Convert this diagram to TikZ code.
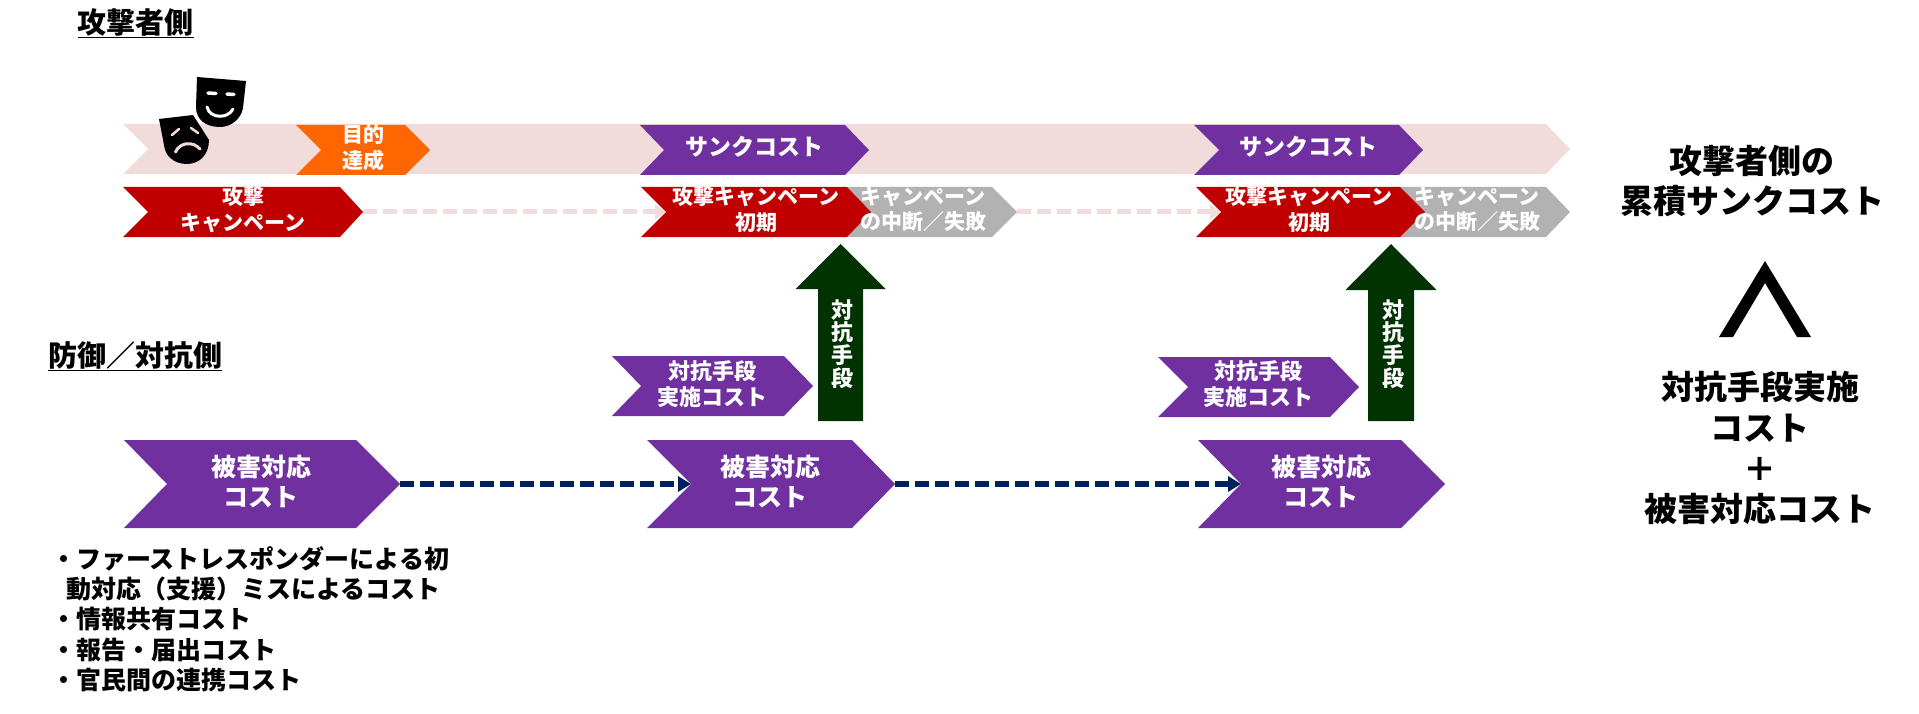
\documentclass[tikz,border=0pt]{standalone}
\usepackage{fontspec}
\setmainfont{Noto Sans CJK JP}
\usetikzlibrary{arrows.meta,backgrounds}
\definecolor{cpurple}{HTML}{7030A0}
\definecolor{cred}{HTML}{C00000}
\definecolor{corange}{HTML}{FF6600}
\definecolor{cgray}{HTML}{B2B2B2}
\definecolor{cpink}{HTML}{F2DCDB}
\definecolor{cgreen}{HTML}{003300}
\definecolor{cnavy}{HTML}{002060}
\newcommand{\chev}[8]{%
  \begin{scope}[on background layer]
    \fill[#8] (#2,#6) -- (#4,#6) -- (#5,{(#6+#7)/2}) -- (#4,#7) -- (#2,#7) -- (#3,{(#6+#7)/2}) -- cycle;
  \end{scope}
  \coordinate (#1-tip) at (#5,{(#6+#7)/2});
  \coordinate (#1-notch) at (#3,{(#6+#7)/2});
}
\newcommand{\uparrowshape}[6]{% cx, tipy, heady, halfhead, halfshaft, boty
  \fill[cgreen] (#1,#2) -- (#1+#4,#3) -- (#1+#5,#3) -- (#1+#5,#6) -- (#1-#5,#6) -- (#1-#5,#3) -- (#1-#4,#3) -- cycle;
}
\newcommand{\sadpath}{(159,119) -- (193,115) -- (209,140) .. controls (209,155) and (199,164) .. (187,164) .. controls (174,164) and (165,156) .. (164,145) -- cycle}
\newcommand{\happypath}{(197,77) -- (246,81) -- (243,108) .. controls (241,119) and (231,127) .. (220,127) .. controls (205,127) and (196,119) .. (196,107) -- cycle}
\tikzset{
  lab/.style={text=white,align=center,inner sep=0pt},
  labs/.style={lab,font=\fontsize{21}{25.5}\selectfont\bfseries},
  labm/.style={lab,font=\fontsize{22}{26}\selectfont\bfseries},
  labk/.style={lab,font=\fontsize{23}{26}\selectfont\bfseries},
  labv/.style={lab,font=\fontsize{22}{22.7}\selectfont\bfseries},
  labl/.style={lab,font=\fontsize{25}{29.5}\selectfont\bfseries},
  heading/.style={inner sep=0pt,font=\fontsize{29}{34}\selectfont\bfseries},
  side/.style={inner sep=0pt,align=center,font=\fontsize{33}{40.8}\selectfont\bfseries},
  listing/.style={inner sep=0pt,align=left,font=\fontsize{25}{30.3}\selectfont\bfseries},
  pinkdash/.style={cpink,line width=5pt,dash pattern=on 14pt off 6pt,-{Triangle[length=11pt,width=15pt]}},
  navydash/.style={cnavy,line width=5.4pt,dash pattern=on 14pt off 6pt,-{Triangle[length=13pt,width=15pt]}},
}
\begin{document}
\begin{tikzpicture}[x=1pt,y=-1pt]
\useasboundingbox (0,0) rectangle (1919,714);
% headings
\node[heading,anchor=center] (headA) at (135.5,23) {\underline{攻撃者側}};
\node[heading,anchor=center] (headB) at (135,356) {\underline{防御／対抗側}};
% top band
\chev{band}{123}{148}{1546}{1570}{124}{174}{cpink}
\chev{goal}{296}{321}{405}{430}{125}{175}{corange}
\node[labs] (goaltxt) at (363,147.5) {目的\\達成};
\chev{sunkA}{640}{664}{845}{869}{125}{175}{cpurple}
\node[labk] (sunkAtxt) at (754,147) {サンクコスト};
\chev{sunkB}{1194}{1219}{1399}{1423}{125}{175}{cpurple}
\node[labk] (sunkBtxt) at (1308,147) {サンクコスト};
% campaign row
\chev{camp}{123}{148}{340}{363}{187}{237}{cred}
\node[labs] (camptxt) at (243,209.5) {攻撃\\キャンペーン};
\chev{failA}{847}{871}{992}{1017}{187}{237}{cgray}
\chev{initA}{641}{666}{847}{871}{187}{237}{cred}
\node[labs] (initAtxt) at (756,209.5) {攻撃キャンペーン\\初期};
\node[labs] (failAtxt) at (923,209.5) {キャンペーン\\の中断／失敗};
\chev{failB}{1400}{1425}{1546}{1570}{187}{237}{cgray}
\chev{initB}{1196}{1221}{1400}{1425}{187}{237}{cred}
\node[labs] (initBtxt) at (1309,209.5) {攻撃キャンペーン\\初期};
\node[labs] (failBtxt) at (1477,209.5) {キャンペーン\\の中断／失敗};
\draw[pinkdash] (camp-tip) -- (initA-notch);
\draw[pinkdash] (failA-tip) -- (initB-notch);
% counter-measure arrows
\uparrowshape{840.5}{244}{289}{45}{22.5}{421}
\node[labv] (armAtxt) at (842,344) {対\\抗\\手\\段};
\uparrowshape{1391}{244}{290}{45.5}{23}{421}
\node[labv] (armBtxt) at (1393,344) {対\\抗\\手\\段};
% counter-measure cost
\chev{costA}{612}{641}{784}{813}{356}{416}{cpurple}
\node[labm] (costAtxt) at (712,384) {対抗手段\\実施コスト};
\chev{costB}{1158}{1188}{1330}{1359}{357}{417}{cpurple}
\node[labm] (costBtxt) at (1258,384.5) {対抗手段\\実施コスト};
% damage cost
\chev{dmgA}{124}{167}{356}{400}{440}{528}{cpurple}
\node[labl] (dmgAtxt) at (261,481.5) {被害対応\\コスト};
\chev{dmgB}{647}{691}{852}{895}{440}{528}{cpurple}
\node[labl] (dmgBtxt) at (770,481.5) {被害対応\\コスト};
\chev{dmgC}{1198}{1241}{1401}{1445}{440}{528}{cpurple}
\node[labl] (dmgCtxt) at (1321,481.5) {被害対応\\コスト};
\draw[navydash] (dmgA-tip) -- (dmgB-notch);
\draw[navydash] (dmgB-tip) -- (dmgC-notch);
% list
\node[listing,anchor=north west] (list) at (51,546) {・ファーストレスポンダーによる初\\\hspace*{15pt}動対応（支援）ミスによるコスト\\・情報共有コスト\\・報告・届出コスト\\・官民間の連携コスト};
% right column
\node[side] (sideA) at (1752,181) {攻撃者側の\\累積サンクコスト};
\node[side] (sideB) at (1760,448) {対抗手段実施\\コスト\\＋\\被害対応コスト};
\fill (1765,261) -- (1811,337) -- (1797,337) -- (1765,283) -- (1733,337) -- (1719,337) -- cycle;
% masks
\fill \sadpath;
\draw[cpink,line width=2.5pt,line cap=round] (172,135) -- (179,129);
\draw[cpink,line width=2.5pt,line cap=round] (191,128) -- (198,133);
\draw[cpink,line width=3pt,line cap=round] (175.5,152) .. controls (180,142) and (193,141) .. (200,149);
\begin{scope}
  \clip \sadpath;
  \draw[white,line width=5pt] \happypath;
\end{scope}
\fill \happypath;
\draw[white,line width=3.5pt,line cap=round] (208,93) -- (216,93.5);
\draw[white,line width=3.5pt,line cap=round] (227,94) -- (234,94.5);
\draw[white,line width=3pt,line cap=round] (207,107) .. controls (210,119) and (228,119) .. (233,109);
\end{tikzpicture}
\end{document}
